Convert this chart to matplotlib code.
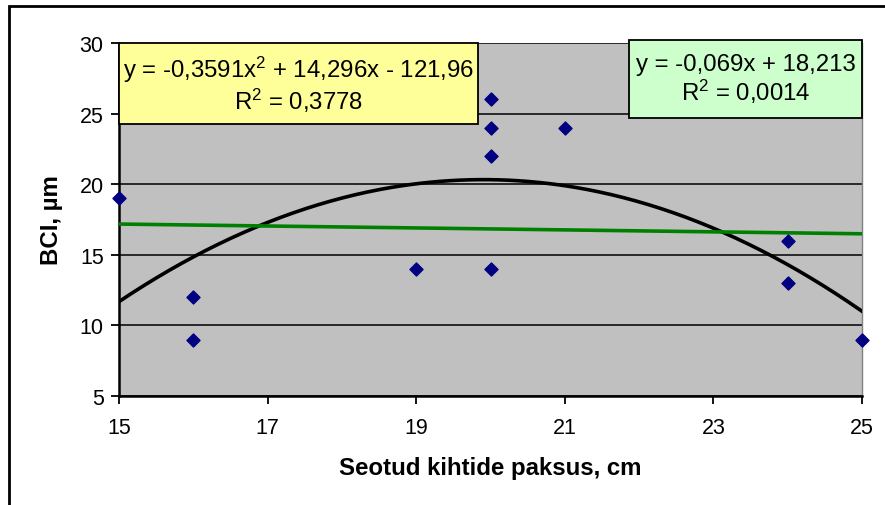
import numpy as np
import matplotlib
matplotlib.use("Agg")
import matplotlib.pyplot as plt
from matplotlib.patches import Rectangle

plt.rcParams['font.family'] = ['Liberation Sans', 'DejaVu Sans']
plt.rcParams['mathtext.default'] = 'regular'

# data
x_vals = [15, 16, 16, 19, 20, 20, 20, 20, 21, 24, 24, 25]
y_vals = [19, 12, 9, 14, 26, 24, 22, 14, 24, 16, 13, 9]
quad_coef = [-0.3591, 14.296, -121.96]
lin_coef = [-0.069, 18.213]
quad_label = "y = -0,3591x$^2$ + 14,296x - 121,96\nR$^2$ = 0,3778"
lin_label = "y = -0,069x + 18,213\nR$^2$ = 0,0014"
x_ticks = [15, 17, 19, 21, 23, 25]
y_ticks = [5, 10, 15, 20, 25, 30]
xlabel = "Seotud kihtide paksus, cm"
ylabel = "BCI, µm"

fig = plt.figure(figsize=(8.85, 5.06), dpi=100)
ax = fig.add_axes([119/885, 1-397/506, (862-119)/885, (397-44)/506])
ax.set_facecolor('#C0C0C0')

# outer chart border
fig.patches.append(Rectangle((9/885, -0.1), 2.0, (506-7)/506 + 0.1,
                             transform=fig.transFigure, fill=False,
                             edgecolor='black', linewidth=2))

for yv in y_ticks:
    ax.axhline(yv, color='black', linewidth=1.1, zorder=1)

xs = np.linspace(15, 25, 300)
ax.plot(xs, np.polyval(quad_coef, xs), color='black', linewidth=2.6, zorder=3)
ax.plot(xs, np.polyval(lin_coef, xs), color='#008000', linewidth=2.6, zorder=3)
ax.scatter(x_vals, y_vals, marker='D', s=44, color='#000080', zorder=4, clip_on=False)

ax.set_xlim(15, 25)
ax.set_ylim(5, 30)
ax.set_xticks(x_ticks)
ax.set_yticks(y_ticks)
ax.tick_params(axis='both', direction='out', length=6, width=1.3, labelsize=15.5, colors='black')
ax.tick_params(axis='x', pad=9)
ax.tick_params(axis='y', pad=5)

ax.spines['left'].set_linewidth(1.8)
ax.spines['bottom'].set_linewidth(1.8)
ax.spines['top'].set_visible(False)
ax.spines['right'].set_color('#808080')
ax.spines['right'].set_linewidth(1)

ax.set_xlabel(xlabel, fontsize=17.3, fontweight='bold', labelpad=13)
ax.set_ylabel(ylabel, fontsize=17.3, fontweight='bold', labelpad=12)

# text boxes
w = 743.0; h = 353.0
yb = Rectangle((0, (397-125)/h), (478-119)/w, (125-44)/h, transform=ax.transAxes,
               facecolor='#FFFF99', edgecolor='black', linewidth=1.3, zorder=5, clip_on=False)
ax.add_patch(yb)
ax.text((299-119)/w, (397-85)/h, quad_label, transform=ax.transAxes, ha='center', va='center',
        fontsize=17.3, multialignment='center', zorder=6, linespacing=1.1)

gb = Rectangle(((629-119)/w, (397-119)/h), (862-629)/w, (119-41)/h, transform=ax.transAxes,
               facecolor='#CCFFCC', edgecolor='black', linewidth=1.3, zorder=5, clip_on=False)
ax.add_patch(gb)
ax.text((746-119)/w, (397-80)/h, lin_label, transform=ax.transAxes, ha='center', va='center',
        fontsize=17.3, multialignment='center', zorder=6, linespacing=1.1)

fig.savefig("out.png", dpi=100)
